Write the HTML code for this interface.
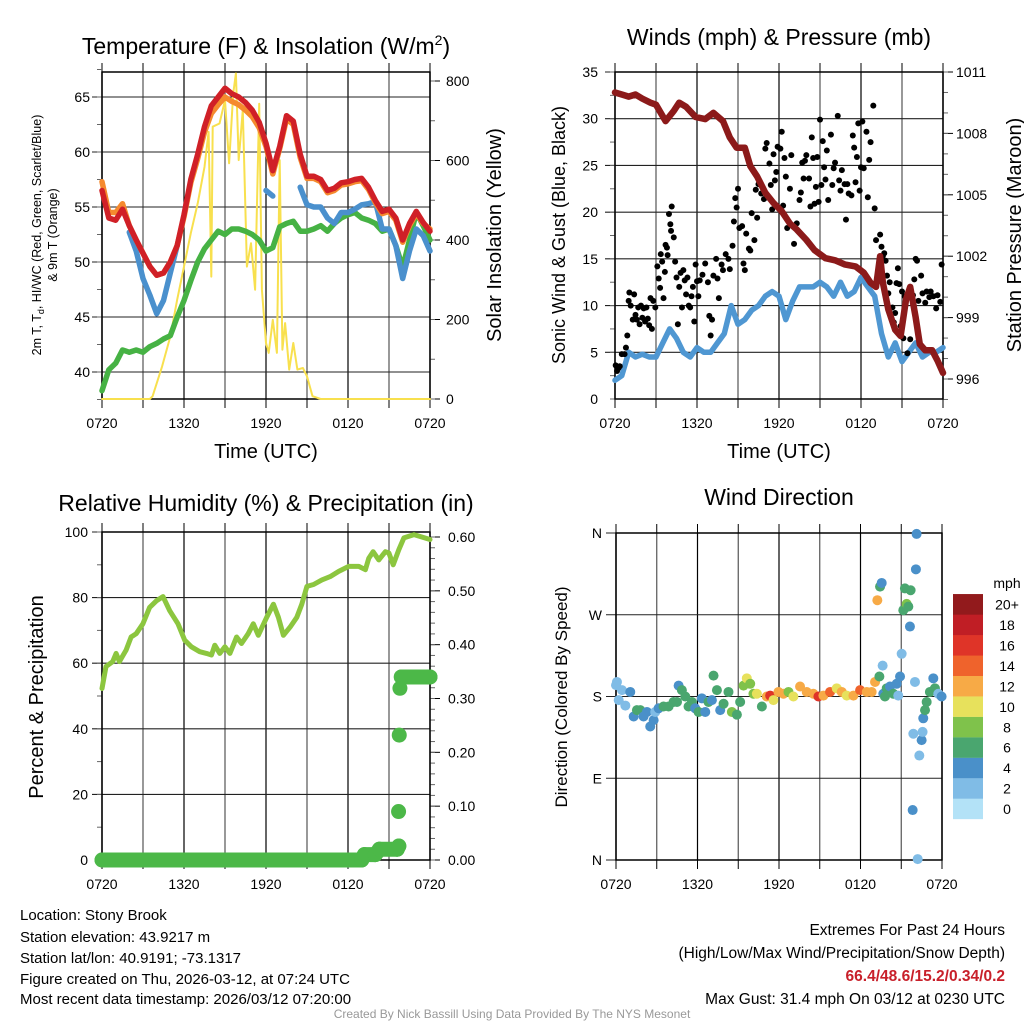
<!DOCTYPE html>
<html><head><meta charset="utf-8">
<style>
html,body{margin:0;padding:0;background:#fff;}
svg{display:block;font-family:"Liberation Sans",sans-serif;}
</style></head>
<body>
<svg id="chart" width="1024" height="1024" viewBox="0 0 1024 1024" xmlns="http://www.w3.org/2000/svg">
<rect x="0" y="0" width="1024" height="1024" fill="#fff"/>
<text x="266" y="54" font-size="23" text-anchor="middle">Temperature (F) &amp; Insolation (W/m<tspan font-size="14" dy="-9">2</tspan><tspan dy="9">)</tspan></text>
<text x="779" y="45" font-size="23" text-anchor="middle">Winds (mph) &amp; Pressure (mb)</text>
<text x="266" y="511" font-size="23" text-anchor="middle">Relative Humidity (%) &amp; Precipitation (in)</text>
<text x="779" y="505" font-size="23" text-anchor="middle">Wind Direction</text>
<g id="layer"></g>
<text transform="translate(41,235) rotate(-90)" font-size="12.5" text-anchor="middle">2m T, T<tspan font-size="9" dy="3">d</tspan><tspan dy="-3">, HI/WC (Red, Green, Scarlet/Blue)</tspan></text>
<text transform="translate(57,235) rotate(-90)" font-size="12.5" text-anchor="middle">&amp; 9m T (Orange)</text>
<text transform="translate(501,235) rotate(-90)" font-size="20" text-anchor="middle">Solar Insolation (Yellow)</text>
<text x="266" y="458" font-size="20" text-anchor="middle">Time (UTC)</text>
<text transform="translate(565,235) rotate(-90)" font-size="18" text-anchor="middle">Sonic Wind &amp; Gust (Blue, Black)</text>
<text transform="translate(1021,235) rotate(-90)" font-size="20" text-anchor="middle">Station Pressure (Maroon)</text>
<text x="779" y="458" font-size="20" text-anchor="middle">Time (UTC)</text>
<text transform="translate(43,697) rotate(-90)" font-size="20" text-anchor="middle">Percent &amp; Precipitation</text>
<text transform="translate(567,697) rotate(-90)" font-size="17" text-anchor="middle">Direction (Colored By Speed)</text>
<text x="1007" y="588" font-size="14" text-anchor="middle">mph</text>
<g font-size="15">
<text x="20" y="920">Location: Stony Brook</text>
<text x="20" y="942">Station elevation: 43.9217 m</text>
<text x="20" y="963">Station lat/lon: 40.9191; -73.1317</text>
<text x="20" y="984">Figure created on Thu, 2026-03-12, at 07:24 UTC</text>
<text x="20" y="1004">Most recent data timestamp: 2026/03/12 07:20:00</text>
</g>
<g font-size="15.5" text-anchor="end">
<text x="1005" y="935">Extremes For Past 24 Hours</text>
<text x="1005" y="958">(High/Low/Max Wind/Precipitation/Snow Depth)</text>
<text x="1005" y="981" fill="#c8202a" font-weight="bold">66.4/48.6/15.2/0.34/0.2</text>
<text x="1005" y="1004">Max Gust: 31.4 mph On 03/12 at 0230 UTC</text>
</g>
<text x="512" y="1018" font-size="12" fill="#999" text-anchor="middle">Created By Nick Bassill Using Data Provided By The NYS Mesonet</text>
</svg>
<script>
const timeLabels = ["0720","1320","1920","0120","0720"];
const hh = [0,0.5,1,1.5,2,2.5,3,3.5,4,4.5,5,5.5,6,6.5,7,7.5,8,8.5,9,9.5,10,10.5,11,11.5,12,12.5,13,13.5,14,14.5,15,15.5,16,16.5,17,17.5,18,18.5,19,19.5,20,20.5,21,21.5,22,22.5,23,23.5,24];
const tempRed = [56.5,54,53.8,54.8,53.3,52,50.8,49.6,48.8,49,50,51.5,54.3,57.5,59.8,62.3,64.2,65,65.8,65.3,65,64.5,63.8,62.7,60.8,58.3,60.5,63.3,62.8,59.8,57.8,57.8,57.5,56.5,56.7,57.2,57.3,57.5,57.6,56.8,55.6,54.6,54.8,54,52,53.5,54.6,53.6,52.8];
const tempOrange = [57.3,54.5,54.5,55.3,53.3,52,50.8,49.6,48.8,49,50,51.5,54.1,57.2,59.4,61.8,63.5,64.3,65,64.6,64.3,63.8,63.2,62.2,60.5,58,60.3,63,62.5,59.5,57.6,57.6,57.3,56.3,56.5,57,57.1,57.3,57.4,56.6,55.4,54.4,54.6,53.8,51.8,53.3,54.4,53.5,53];
const tempBlue = [null,null,null,null,52.7,51,48.5,47,45.3,46.5,49,51.5,null,null,null,null,null,null,null,null,null,null,null,null,56.5,56,null,null,null,56.8,55.2,55,55,54,53.5,54.5,54.5,54.8,55.2,55.3,55.5,53,53,51.5,48.5,51,53,52.4,51];
const dewGreen = [38.3,40.2,40.8,42,41.8,42,41.8,42.3,42.6,43,43.3,45,46.5,48.3,50,51.2,52,52.8,52.5,53,53,52.8,52.5,52,51,51.3,53.2,53.5,53.7,52.8,52.8,53,53.3,52.8,53.5,54,54.3,54.5,54,53.8,53.5,52.8,53,51.5,49.5,52,54.5,53.3,52];
const solarHours = [0,3.5,3.7,4.4,5,5.5,6,6.5,7,7.5,7.8,8,8.1,8.6,9,9.3,9.6,9.8,10,10.3,10.6,10.9,11.2,11.5,11.7,12,12.2,12.5,12.8,13,13.2,13.4,13.7,14,14.3,14.7,15,15.4,16,24];
const solarVals = [0,0,7,82,157,250,333,417,492,584,672,308,685,693,752,593,768,819,601,727,333,392,275,743,275,141,116,199,116,601,124,191,74,141,74,78,57,7,0,0];
const windMean = [2,2.5,5,4.5,4.8,4.5,4.5,6,7.5,6.5,5,4.5,5.5,5,5,6,7,10,8,8.5,9.5,10,11,11.5,11,8.5,10.5,12,12,12,12.5,12,11,12.5,11,11.5,13,12,11,7,4.5,6,4,5,6,4.5,5,5,5.5];
const pressHours = [0,0.5,1,1.5,2,2.6,3,3.7,4.3,4.7,5.2,5.9,6.6,7.2,7.9,8.4,8.9,9.5,9.9,10.4,11,11.6,12.2,12.8,13.3,14,14.6,15.4,16.1,16.8,17.6,18.2,18.7,19.1,19.4,19.6,20,20.5,20.9,21.3,21.6,22,22.3,22.7,23.2,23.6,24];
const pressVals = [1010,1009.9,1009.8,1009.9,1009.7,1009.5,1009.4,1008.6,1009.1,1009.5,1009.3,1008.8,1008.7,1009,1008.6,1007.8,1007.3,1007.3,1006.4,1005.9,1005.1,1004.6,1004.2,1003.6,1003.3,1002.8,1002.3,1001.9,1001.8,1001.6,1001.5,1001.2,1000.7,1000.5,1002,1000.7,999.4,998.4,998.1,999.9,1000.5,999,997.7,997.4,997.4,996.9,996.3];
const gustHours = [0.05,0.15,0.25,0.35,0.5,0.7,0.8,0.9,1.0,1.05,1.15,1.3,1.4,1.5,1.6,1.7,1.8,1.9,2.0,2.1,2.2,2.3,2.4,2.5,2.6,2.7,2.8,2.95,3.1,3.2,3.3,3.35,3.45,3.55,3.65,3.7,3.8,3.85,3.95,4.05,4.1,4.15,4.3,4.4,4.5,4.6,4.7,4.8,4.9,5.0,5.1,5.2,5.3,5.4,5.5,5.6,5.7,5.8,5.9,6.0,6.1,6.2,6.4,6.6,6.8,6.9,7.0,7.1,7.2,7.4,7.5,7.6,7.8,7.9,8.1,8.3,8.4,8.6,8.7,8.8,8.9,9.0,9.1,9.3,9.4,9.5,9.6,9.8,9.9,10.0,10.2,10.3,10.4,10.5,10.7,10.9,11.0,11.1,11.3,11.4,11.5,11.6,11.7,11.8,11.9,12.1,12.2,12.3,12.4,12.5,12.6,12.8,12.9,13.0,13.1,13.3,13.5,13.6,13.7,13.8,13.9,14.0,14.2,14.3,14.4,14.5,14.6,14.7,14.8,14.9,15.0,15.1,15.2,15.3,15.4,15.5,15.6,15.8,15.9,16.0,16.1,16.3,16.4,16.5,16.6,16.8,16.9,17.0,17.1,17.3,17.4,17.5,17.6,17.7,17.8,17.9,18.0,18.1,18.2,18.4,18.5,18.6,18.7,18.9,19.0,19.1,19.3,19.4,19.5,19.6,19.7,19.8,19.9,20.0,20.1,20.3,20.4,20.5,20.6,20.7,20.8,20.9,21.0,21.1,21.2,21.4,21.6,21.8,21.9,22.0,22.1,22.2,22.4,22.5,22.7,22.8,23.0,23.1,23.3,23.5,23.6,23.8,23.9];
const gustVals = [3.6,3,3.3,3.5,4.8,4.8,5.5,6.8,10.5,11.4,10,8.5,11.2,9,8.5,9.8,8,10,8.7,9.7,8.3,9.8,8.6,7.9,10.8,7.5,10.5,9.8,14.2,12.9,11.9,15.5,14.7,10.8,13.6,16.5,16.2,15.4,19.8,18.7,18,20.6,17.3,14.7,13,8,12,13.5,9.8,13.8,12.7,11.2,13,10,9.8,11,12,8.3,14.4,12.6,11,12.7,13.3,14.5,12.5,8.9,6.8,8.5,13.2,15,12.9,10.8,14.4,13.8,15.5,15,13.9,16.4,19,21.5,20.5,22.5,18.3,18.5,14.5,13.8,17.7,16.1,15.9,19.9,17,22.4,19.4,23,22,21.4,26.8,27.4,25.2,22.9,20.3,26.2,23.4,24.3,27,26.8,28.6,20.7,25.8,23.8,18.3,22.5,26.1,18.5,16.6,18.8,21.3,22.1,25.3,23.6,25.5,26.1,23.6,20.6,28,25.8,20.9,22.7,25.9,21.1,29.9,22.9,27.6,24.8,23.5,26.6,21.3,28.3,22.9,24.7,25.3,30.3,23.4,22.3,24.5,23,19.2,23,22,21.8,28.2,26.9,23.2,25.9,29.5,22.3,24.8,29.7,24.7,28.6,21.6,25.6,27.5,31.4,20.4,17,13.9,17.6,16.3,15.3,15.6,14.8,13.2,11.3,12.5,9.8,8.2,9.2,12.4,14,12.3,7.8,11.5,6.5,11,4.9,6.4,11.1,12.8,15,14.8,10.5,13.2,11.3,10.3,11.5,10.9,11.5,11,9.7,11.1,10.4,14.4];
const rhHours = [0,0.29,0.78,1.03,1.27,1.76,2.13,2.5,2.99,3.48,3.97,4.46,4.95,5.56,6.05,6.54,7.15,7.64,8.01,8.25,8.62,8.99,9.36,9.85,10.21,10.7,11.07,11.44,12.05,12.54,12.91,13.27,13.76,14.25,14.62,14.99,15.48,16.09,16.7,17.32,18.05,18.79,19.27,19.52,19.84,20.25,20.74,20.99,21.31,21.72,22.09,22.83,24];
const rhVals = [52.3,59,60.5,63,60.5,64,68,69,72,77,79,80.3,76,72,67,65,63.5,63,62.5,65.5,63,65,63,68,66,69,72,68.5,74,78,74,68.5,71,74,78,83.4,84,85.4,86.4,88,89.5,89.5,88.5,92,94,91.5,94,93.6,90,94.6,98.2,99.2,97.7];
const precipHours = [0,19.0,19.2,20.0,20.3,21.6,21.72,21.7,21.75,21.8,21.9,24];
const precipVals = [0,0,0.01,0.01,0.02,0.02,0.026,0.09,0.232,0.319,0.34,0.34];
const dirHours = [0,0.07,0.44,0.2,0.69,1.05,1.3,1.54,1.79,2.03,2.28,2.52,2.77,2.89,3.14,3.5,3.87,4.24,4.49,4.61,4.85,5.1,5.34,5.59,5.83,6.08,6.32,6.57,6.81,7.06,7.18,7.43,7.67,7.92,8.28,8.53,8.9,9.14,9.39,9.63,9.88,10.12,10.37,10.74,11.1,11.35,11.59,11.96,12.33,12.7,13.06,13.55,14.04,14.53,14.9,15.27,15.76,16.25,16.62,16.99,17.48,17.97,18.46,18.82,19.07,19.24,19.44,19.56,19.39,19.63,19.68,19.93,19.8,20.17,20.42,20.66,20.78,20.91,21.03,21.15,21.27,21.4,21.52,21.64,21.69,21.84,21.89,22.01,22.08,22.13,22.21,22.33,22.5,22.57,22.62,22.75,22.87,23.11,23.36,23.48,23.73,23.97];
const dirVals = [192.5,196,187,176,170,185,158,165,165,158,163,147,154,163,167,169,169,174,174,192,187,180,169,174,167,163,178,163,174,176,203,187,165,172,185,163,160,174,192,200,194,183,183,169,180,181,176,185,183,185,180,191,185,183,180,181,185,189,185,181,181,187,185,185,196,286,301,305,202,214,183,189,180,191,183,194,181,202,227,275,299,282,279,257,297,55,139,196,320,359,1,115,132,141,156,165,174,185,200,189,183,180];
const dirSpeeds = [3,2,2,2,2,4,4,6,6,4,4,4,4,3,4,6,7,7,6,4,6,6,6,6,4,6,4,4,6,4,6,6,4,6,6,8,6,7,8,10,9,8,10,7,12,16,10,12,13,8,10,12,12,12,16,13,14,10,12,10,12,14,12,13,12,12,6,4,6,3,4,6,7,4,6,4,2,4,3,6,6,8,7,4,6,4,2,2,4,4,2,2,4,2,4,7,6,6,4,6,2,4];
const speedBins = ["0","2","4","6","8","10","12","14","16","18","20+"];
const speedColors = ["#b3e2f7","#80bce6","#4a90c9","#4aa66f","#7fc24b","#e7e15c","#f7aa46","#ef632c","#df3428","#c01e25","#921a1c"];
const tempTicks = [40,45,50,55,60,65];
const solarTicks = [0,200,400,600,800];
const windTicks = [0,5,10,15,20,25,30,35];
const pressTicks = [996,999,1002,1005,1008,1011];
const rhTicks = [0,20,40,60,80,100];
const precipTicks = [0,0.1,0.2,0.3,0.4,0.5,0.6];
const dirTicks = [0,90,180,270,360];
const dirTickLabels = ["N","E","S","W","N"];

const NS="http://www.w3.org/2000/svg";
const layer=document.getElementById('layer');
function mk(tag,attrs,parent){const e=document.createElementNS(NS,tag);for(const k in attrs)e.setAttribute(k,attrs[k]);(parent||layer).appendChild(e);return e;}
function grp(name){const g=mk('g',{});


return g;}
function poly(xs,ys,fx,fy,stroke,w,name){
  let segs=[],cur=[];
  for(let i=0;i<xs.length;i++){ if(ys[i]===null||ys[i]===undefined){if(cur.length)segs.push(cur);cur=[];} else cur.push(fx(xs[i]).toFixed(1)+','+fy(ys[i]).toFixed(1)); }
  if(cur.length)segs.push(cur);
  const g=grp(name);
  segs.forEach(s=>{ if(s.length===1)s.push(s[0]); mk('polyline',{points:s.join(' '),fill:'none',stroke:stroke,'stroke-width':w,'stroke-linejoin':'round','stroke-linecap':'round'},g);});
  return g;
}
function frame(x0,x1,y0,y1,name,pxf,leftT,fy,leftL,rightT,fy2,rightL,leftLabelX,rightLabelX,showX,hgrid,minorL,minorR){
  const g=grp(name);
  for(let h=0;h<=24;h+=3){const x=pxf(h);mk('line',{x1:x,y1:y0,x2:x,y2:y1,stroke:(h%6===0?'#000':'#555'),'stroke-width':1.2},g);
    mk('line',{x1:x,y1:y0-9,x2:x,y2:y0,stroke:'#000','stroke-width':1},g);
    mk('line',{x1:x,y1:y1,x2:x,y2:y1+9,stroke:'#000','stroke-width':1},g);}
  hgrid.forEach(v=>{const y=fy(v);mk('line',{x1:x0-10,y1:y,x2:x1,y2:y,stroke:'#222','stroke-width':1.1},g);});
  (minorL||[]).forEach(v=>{const y=fy(v);mk('line',{x1:x0-5,y1:y,x2:x0,y2:y,stroke:'#666','stroke-width':1},g);});
  leftT.forEach((v,i)=>{const t=mk('text',{x:leftLabelX,y:fy(v)+5,'font-size':14,'text-anchor':'end'},g);t.textContent=leftL[i];});
  if(rightT){rightT.forEach((v,i)=>{const y=fy2(v);mk('line',{x1:x1,y1:y,x2:x1+10,y2:y,stroke:'#000','stroke-width':1},g);
    const t=mk('text',{x:rightLabelX,y:y+5,'font-size':14,'text-anchor':'start'},g);t.textContent=rightL[i];});
    (minorR||[]).forEach(v=>{const y=fy2(v);mk('line',{x1:x1,y1:y,x2:x1+5,y2:y,stroke:'#666','stroke-width':1},g);});}
  mk('rect',{x:x0,y:y0,width:x1-x0,height:y1-y0,fill:'none',stroke:'#000','stroke-width':1.5},g);
  [0,6,12,18,24].forEach((h,i)=>{const t=mk('text',{x:pxf(h),y:y1+29,'font-size':14,'text-anchor':'middle'},g);t.textContent=timeLabels[i];});
  return g;
}
function range(a,b,s){const r=[];for(let v=a;v<=b+1e-9;v+=s)r.push(+v.toFixed(4));return r;}

const p1x=h=>102+h*328/24, p1y=T=>372-(T-40)*11, p1s=W=>399-W*0.3975;
frame(102,430,72,399,'temp-axes',p1x,tempTicks,p1y,tempTicks.map(String),solarTicks,p1s,solarTicks.map(String),90,446,true,tempTicks,range(37.5,67.5,2.5),range(0,840,100));
poly(solarHours,solarVals,p1x,p1s,'#f8e04e',2,'solar-insolation-line');
poly(hh,dewGreen,p1x,p1y,'#46b244',5.5,'dewpoint-line');
poly(hh,tempBlue,p1x,p1y,'#4a90cd',5.5,'heat-index-windchill-line');
poly(hh,tempOrange,p1x,p1y,'#f58a2e',5.5,'temp-9m-line');
poly(hh,tempRed,p1x,p1y,'#d02027',5.5,'temp-2m-line');

const p2x=h=>615+h*328/24, p2y=w=>399-w*(327/35), p2p=p=>379-(p-996)*(307/15);
frame(615,943,72,399,'wind-axes',p2x,windTicks,p2y,windTicks.map(String),pressTicks,p2p,pressTicks.map(String),598,956,true,windTicks.slice(1),range(0,35,2.5),range(995,1011,1));
poly(hh,windMean,p2x,p2y,'#4f97d2',5.5,'sonic-wind-line');
const gg=grp('gust-points');
gustHours.forEach((h,i)=>{const c=mk('circle',{cx:p2x(h),cy:p2y(gustVals[i]),r:3,fill:'#000'},gg);

});
poly(pressHours,pressVals,p2x,p2p,'#8c1a1a',6.5,'station-pressure-line');

const p3x=h=>102+h*328/24, p3y=r=>860-r*3.28, p3p=v=>860-v*(323/0.6);
frame(102,430,532,860,'rh-axes',p3x,rhTicks,p3y,rhTicks.map(String),precipTicks,p3p,precipTicks.map(v=>v.toFixed(2)),88,448,true,rhTicks.slice(1),range(0,100,10),range(0,0.6,0.02));
poly(rhHours,rhVals,p3x,p3y,'#8cc63f',5,'relative-humidity-line');
const pg=grp('precip-points');
for(let i=0;i<precipHours.length;i++){
  if(i>0 && Math.abs(precipVals[i]-precipVals[i-1])<0.015){mk('line',{x1:p3x(precipHours[i-1]),y1:p3p(precipVals[i-1]),x2:p3x(precipHours[i]),y2:p3p(precipVals[i]),stroke:'#4cb848','stroke-width':15,'stroke-linecap':'round'},pg);}
  const c=mk('circle',{cx:p3x(precipHours[i]),cy:p3p(precipVals[i]),r:7.5,fill:'#4cb848'},pg);
  
  
}

const p4x=h=>616+h*326/24, p4y=d=>860-d*(327/360);
frame(616,942,533,860,'direction-axes',p4x,dirTicks,p4y,dirTickLabels,null,null,null,602,0,true,dirTicks,[]);
const dg=grp('direction-points');
dirHours.forEach((h,i)=>{const bi=Math.min(10,Math.floor(dirSpeeds[i]/2));
  const c=mk('circle',{cx:p4x(h),cy:p4y(dirVals[i]),r:5,fill:speedColors[bi]},dg);
  
  });
const cb=grp('speed-colorbar');
speedBins.forEach((lab,i)=>{const y=819-(i+1)*20.45;
  const r=mk('rect',{x:953,y:y,width:30,height:20.6,fill:speedColors[i]},cb);
  
  
  const t=mk('text',{x:1007,y:y+15.5,'font-size':14,'text-anchor':'middle'},cb);t.textContent=lab;});
</script>
</body></html>
